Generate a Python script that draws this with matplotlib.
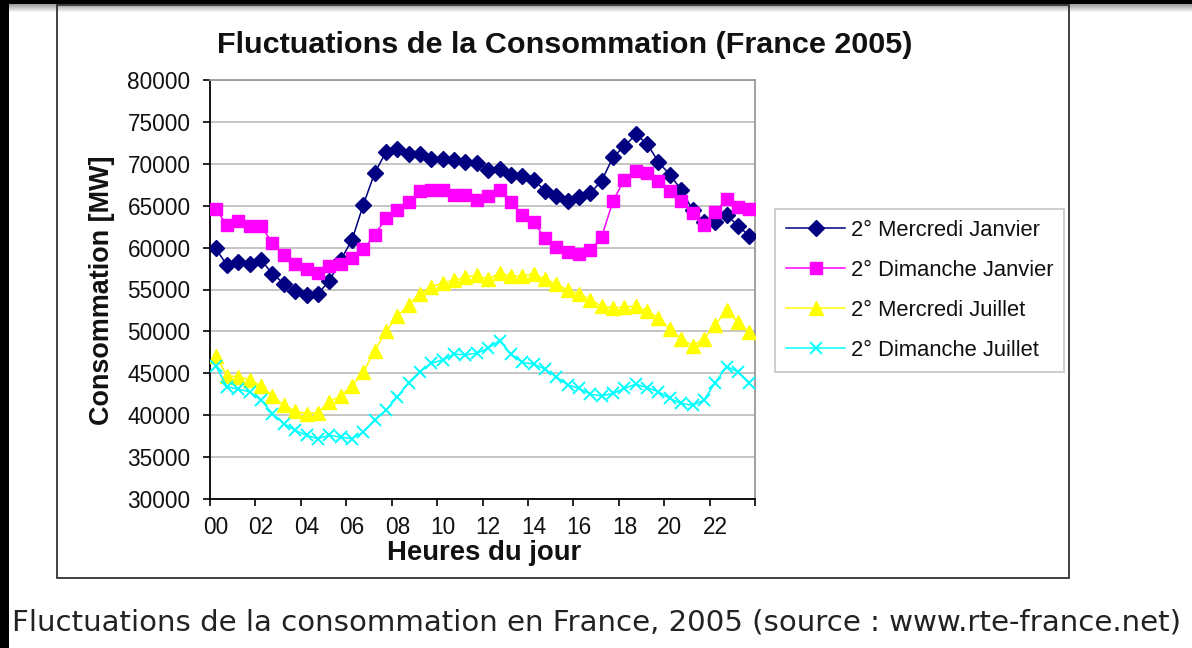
import numpy as np
import matplotlib
matplotlib.use("Agg")
import matplotlib.pyplot as plt
from matplotlib.patches import Rectangle

# ---------------- data ----------------
hour_labels = ["00", "02", "04", "06", "08", "10", "12", "14", "16", "18", "20", "22"]

mercredi_janvier = [59900, 57900, 58300, 58000, 58500, 56900, 55700, 54800, 54300, 54500,
                    56000, 58500, 60900, 65100, 68900, 71400, 71800, 71200, 71200, 70600,
                    70600, 70400, 70200, 70100, 69300, 69400, 68700, 68600, 68100, 66800,
                    66100, 65600, 66000, 66500, 68000, 70800, 72100, 73500, 72400, 70200,
                    68700, 66900, 64500, 63000, 63000, 63900, 62600, 61400]

dimanche_janvier = [64600, 62700, 63200, 62600, 62600, 60500, 59100, 58000, 57500, 57000,
                    57800, 58000, 58700, 59800, 61500, 63500, 64500, 65500, 66700, 66900,
                    66900, 66300, 66300, 65700, 66100, 66900, 65500, 63900, 63100, 61100,
                    60100, 59500, 59200, 59700, 61300, 65600, 68100, 69100, 68900, 67900,
                    66800, 65600, 64100, 62700, 64300, 65800, 64900, 64600]

mercredi_juillet = [47100, 44700, 44600, 44200, 43500, 42300, 41200, 40500, 40200, 40300,
                    41600, 42300, 43500, 45100, 47700, 50000, 51800, 53200, 54500, 55300,
                    55800, 56100, 56500, 56700, 56200, 57000, 56600, 56600, 56900, 56200,
                    55700, 54900, 54500, 53800, 53000, 52800, 52900, 53000, 52400, 51600,
                    50300, 49100, 48300, 49100, 50800, 52500, 51100, 49900]

dimanche_juillet = [45900, 43400, 43100, 42800, 41800, 40200, 39000, 38200, 37600, 37200,
                    37600, 37400, 37200, 38000, 39400, 40600, 42200, 43900, 45200, 46200,
                    46600, 47300, 47200, 47400, 48000, 48900, 47300, 46300, 46100, 45500,
                    44600, 43600, 43200, 42500, 42300, 42600, 43200, 43700, 43300, 42800,
                    42000, 41400, 41200, 41800, 43900, 45800, 45200, 43900]

series_names = ["2° Mercredi Janvier", "2° Dimanche Janvier",
                "2° Mercredi Juillet", "2° Dimanche Juillet"]

title = "Fluctuations de la Consommation (France 2005)"
ylabel = "Consommation [MW]"
xlabel = "Heures du jour"
caption = "Fluctuations de la consommation en France, 2005 (source : www.rte-france.net)"

# ---------------- figure ----------------
W, H = 1192, 648
fig = plt.figure(figsize=(W / 100, H / 100), dpi=100)
fig.patch.set_facecolor("white")
FONT = ["Liberation Sans", "DejaVu Sans"]
renderer = fig.canvas.get_renderer()

def fx(px):
    return px / W

def fy(py):
    return 1 - py / H

def fit(txt, target_px, vertical=False):
    """Scale font size so that the text spans target_px pixels."""
    for _ in range(3):
        bb = txt.get_window_extent(renderer=renderer)
        cur = bb.height if vertical else bb.width
        txt.set_fontsize(txt.get_fontsize() * target_px / cur)

# screenshot decorations: black edges + gray gradient under top band
fig.patches.append(Rectangle((0, fy(4)), 1, 4 / H, transform=fig.transFigure,
                             facecolor="black", edgecolor="none", zorder=0))
for k in range(9):
    g = 0.62 + 0.38 * (k / 8.0)
    fig.patches.append(Rectangle((fx(9), fy(5 + k)), 1, 1 / H, transform=fig.transFigure,
                                 facecolor=(g, g, g), edgecolor="none", zorder=0))
fig.patches.append(Rectangle((0, 0), fx(9), 1, transform=fig.transFigure,
                             facecolor="black", edgecolor="none", zorder=0))

# chart frame
fig.patches.append(Rectangle((fx(57), fy(578)), fx(1069) - fx(57), fy(5) - fy(578),
                             transform=fig.transFigure, facecolor="none",
                             edgecolor="#333333", linewidth=1.3, zorder=1))

# plot axes
ax = fig.add_axes([fx(210), fy(499), fx(755) - fx(210), fy(80) - fy(499)])
x = np.arange(len(mercredi_janvier))

styles = [
    dict(color="#000080", marker="D", markersize=7.8),
    dict(color="#FF00FF", marker="s", markersize=8.2),
    dict(color="#FFFF00", marker="^", markersize=9.5),
    dict(color="#00FFFF", marker="x", markersize=8.8, markeredgewidth=1.4),
]
all_series = [mercredi_janvier, dimanche_janvier, mercredi_juillet, dimanche_juillet]
handles = []
for vals, name, st in zip(all_series, series_names, styles):
    ln, = ax.plot(x, vals, linewidth=1.1, label=name, zorder=3, **st)
    handles.append(ln)

ax.set_xlim(-0.5, len(x) - 0.5)
ax.set_ylim(30000, 80000)
ax.set_yticks(np.arange(30000, 80001, 5000))
ax.yaxis.grid(True, color="#c0c0c0", linewidth=1.3)
ax.set_axisbelow(True)

ax.set_xticks(np.arange(-0.5, len(x), 4))
ax.set_xticklabels([])
ax.set_xticks(np.arange(0, len(x), 4), minor=True)
ax.set_xticklabels(hour_labels, minor=True)
TICK = 16.3
ax.tick_params(axis="x", which="minor", length=0, pad=12, labelsize=TICK, colors="#111111")
ax.tick_params(axis="x", which="major", length=5, width=1.2, direction="out")
ax.tick_params(axis="y", length=5, width=1.2, direction="out", pad=9, labelsize=TICK,
               colors="black", labelcolor="#111111")
for lab in ax.get_xticklabels(minor=True) + ax.get_yticklabels():
    lab.set_family(FONT)

for side in ("left", "bottom"):
    ax.spines[side].set_color("black")
    ax.spines[side].set_linewidth(1.3)
for side in ("top", "right"):
    ax.spines[side].set_color("#9a9a9a")
    ax.spines[side].set_linewidth(1.3)

# texts
t_title = fig.text(fx(565), fy(45), title, ha="center", va="center", fontsize=20,
                   fontweight="bold", family=FONT, color="#111111")
fit(t_title, 695)
t_y = fig.text(fx(102), fy(290), ylabel, ha="center", va="center", rotation=90,
               fontsize=19, fontweight="bold", family=FONT, color="#111111")
fit(t_y, 270, vertical=True)
t_x = fig.text(fx(484), fy(553), xlabel, ha="center", va="center", fontsize=19,
               fontweight="bold", family=FONT, color="#111111")
fit(t_x, 194)
t_c = fig.text(fx(12), fy(622), caption, ha="left", va="center", fontsize=22,
               family=["DejaVu Sans"], color="#222222")
fit(t_c, 1171)

leg = fig.legend(handles=handles, loc="upper left",
                 bbox_to_anchor=(fx(775), fy(209)), bbox_transform=fig.transFigure,
                 prop={"family": FONT, "size": 15.8}, frameon=True, fancybox=False,
                 handlelength=2.7, handletextpad=0.25, labelspacing=0.86,
                 borderpad=0.5, borderaxespad=0)
leg.get_frame().set_edgecolor("#bdbdbd")
leg.get_frame().set_linewidth(1.3)
for t in leg.get_texts():
    t.set_color("#111111")

fig.savefig("out.png", dpi=100)
